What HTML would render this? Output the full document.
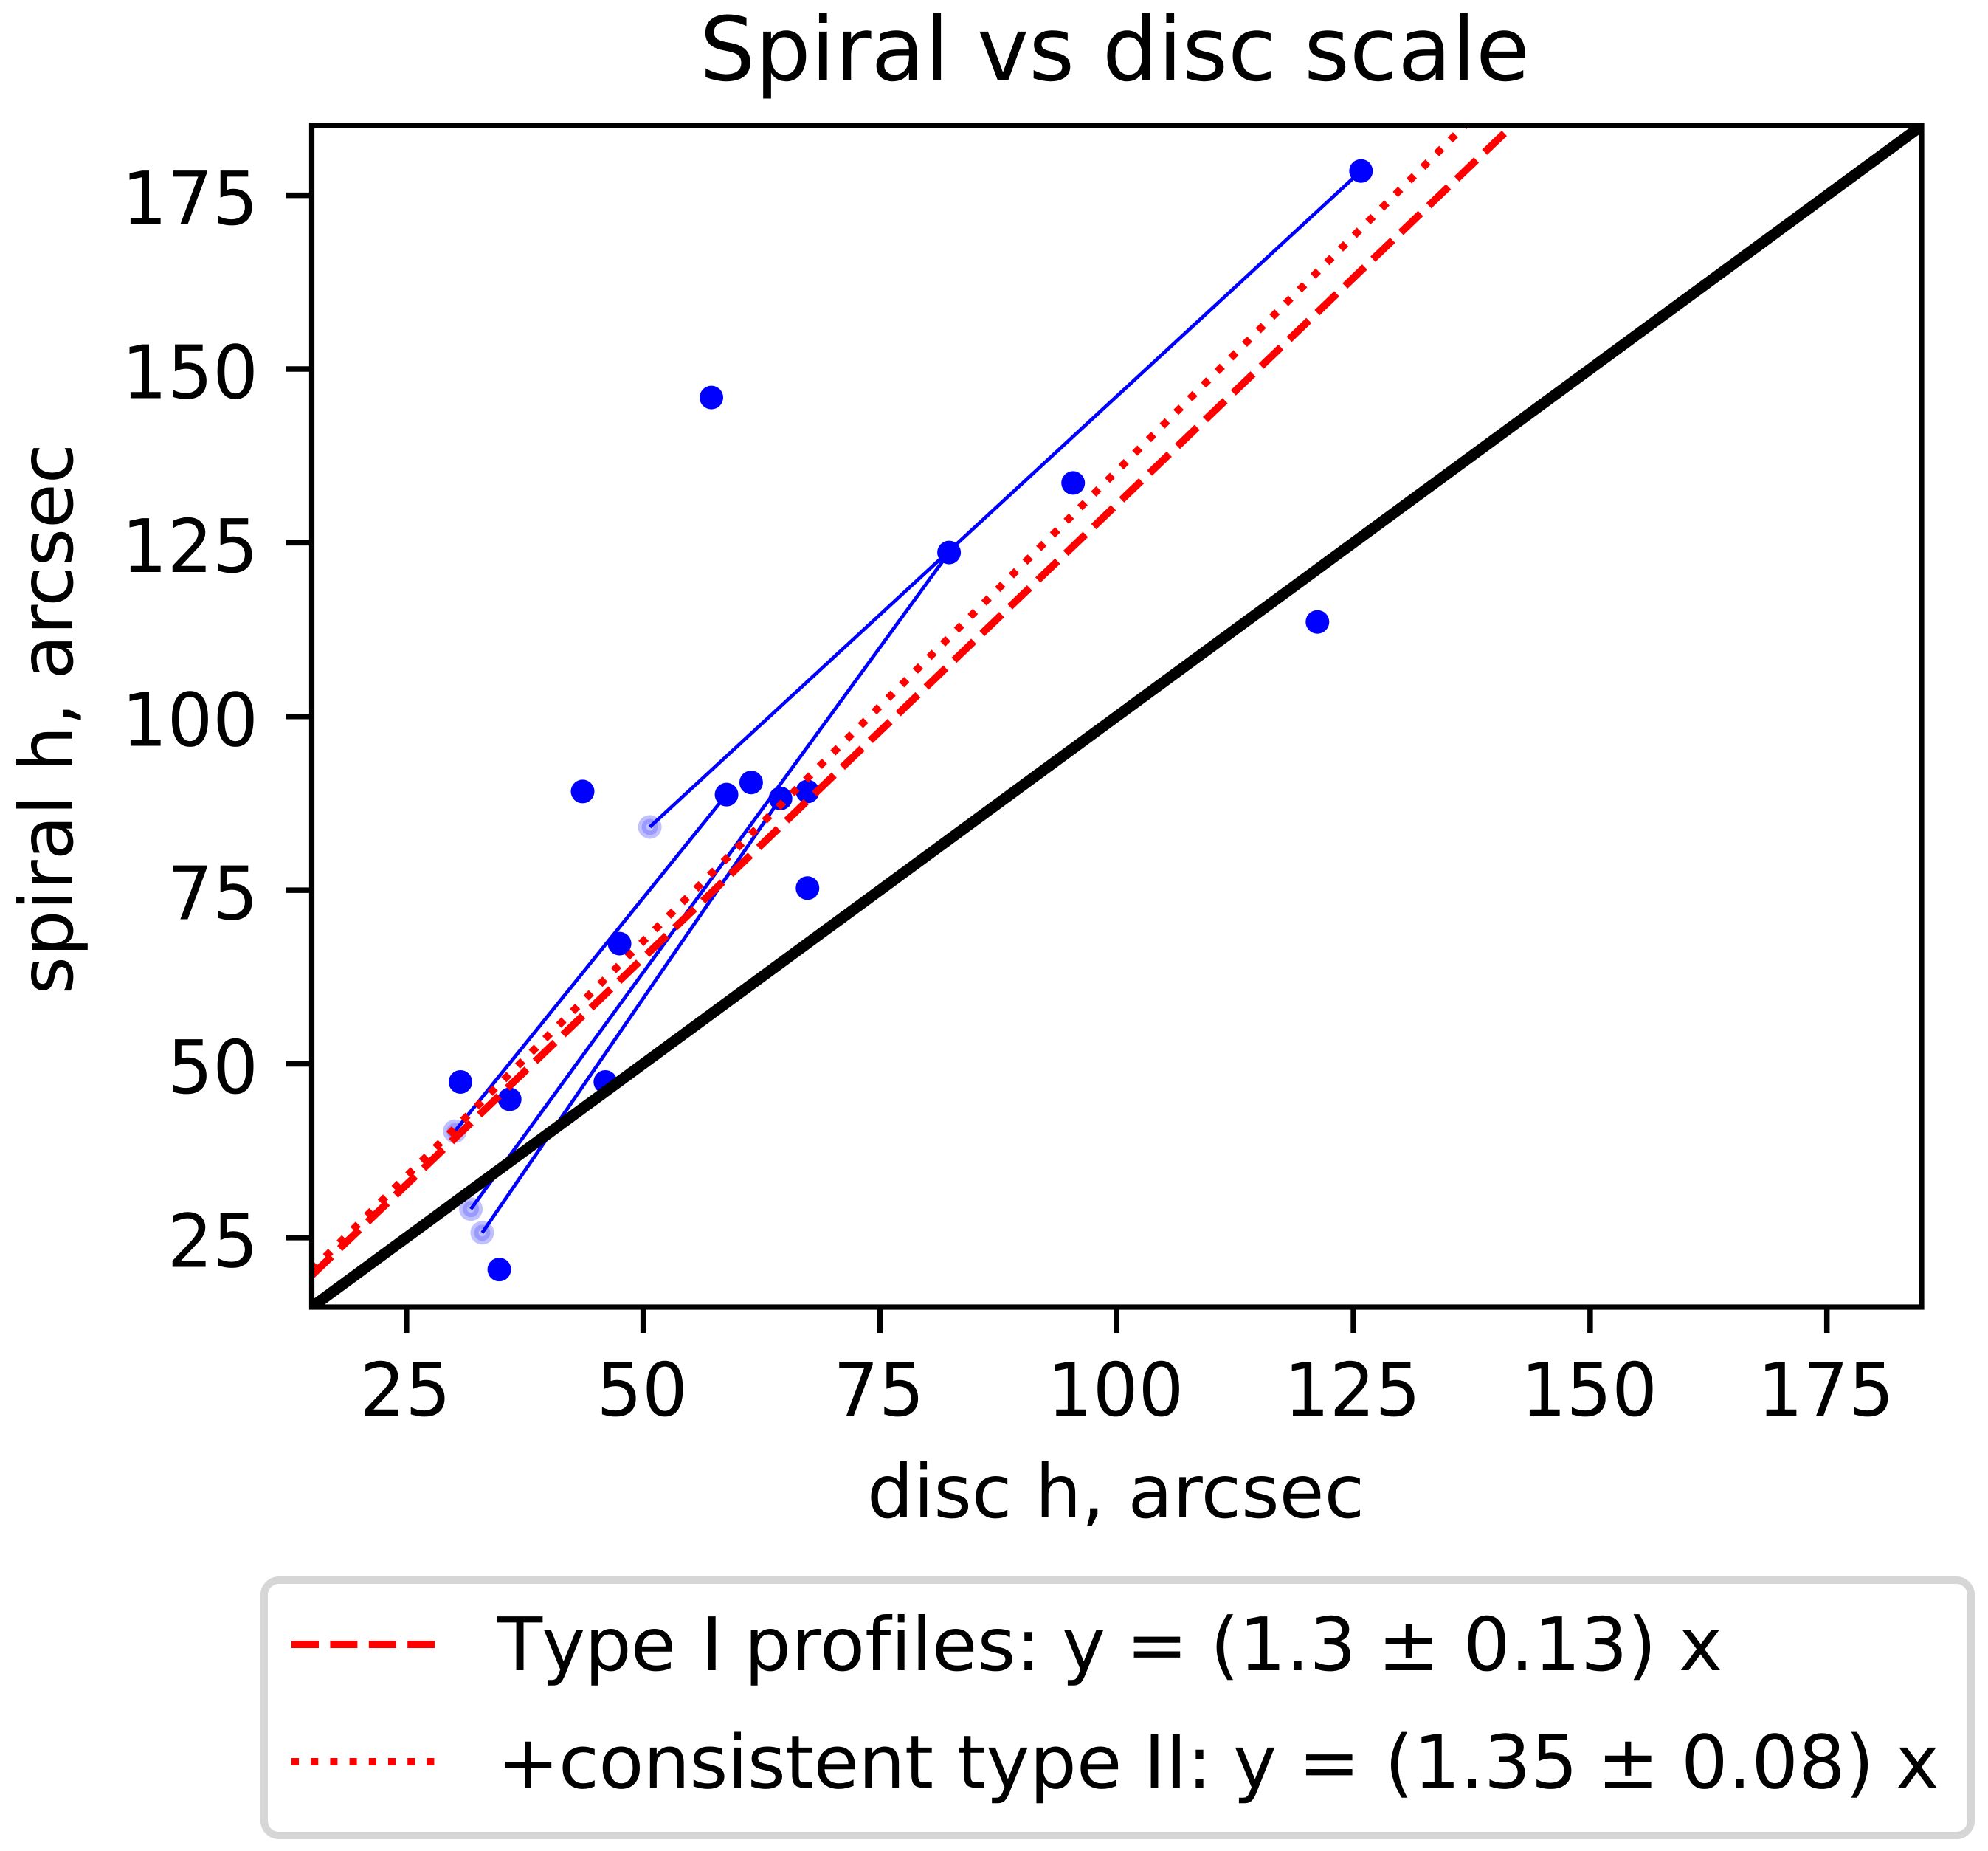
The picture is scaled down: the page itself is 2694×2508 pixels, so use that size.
<!DOCTYPE html>
<html lang="en">
<head>
<meta charset="utf-8">
<title>Spiral vs disc scale</title>
<style>
  html, body { margin: 0; padding: 0; background: #fff; }
  svg { display: block; }
  text { font-family: "DejaVu Sans", "Liberation Sans", sans-serif; fill: #000; text-rendering: geometricPrecision; font-variant-ligatures: none; }
</style>
</head>
<body>
<svg id="chart" xmlns="http://www.w3.org/2000/svg" width="2694" height="2508" viewBox="0 0 2694 2508">
  <defs>
    <clipPath id="plot-clip"><rect x="422.5" y="170" width="2181.5" height="1601"></rect></clipPath>
  </defs>
  <rect x="0" y="0" width="2694" height="2508" fill="#fff"></rect>
  <text x="1510.5" y="108.5" font-size="120" text-anchor="middle" textLength="1125" lengthAdjust="spacingAndGlyphs">Spiral vs disc scale</text>
  <g id="plot-marks" clip-path="url(#plot-clip)"></g>
  <g id="axis-ticks"></g>
  <rect x="422.5" y="170" width="2181.5" height="1601" fill="none" stroke="#000" stroke-width="7.2"></rect>
  <text x="1512" y="2056" font-size="100" text-anchor="middle" textLength="674" lengthAdjust="spacingAndGlyphs">disc h, arcsec</text>
  <text transform="translate(98 974.2) rotate(-90)" font-size="100" text-anchor="middle" textLength="746.5" lengthAdjust="spacingAndGlyphs">spiral h, arcsec</text>
  <g>
    <rect x="358" y="2141" width="2313" height="346" rx="20" ry="20" fill="#fff" stroke="#d6d6d6" stroke-width="10"></rect>
    <line x1="395" y1="2228" x2="590" y2="2228" stroke="#f00" stroke-width="10" stroke-dasharray="37 15.4"></line>
    <text y="2263" font-size="100"><tspan x="674" style="font-kerning:none" letter-spacing="-1">Type </tspan><tspan x="950">I </tspan><tspan x="1008.5">profiles: </tspan><tspan x="1439">y </tspan><tspan x="1526">= </tspan><tspan x="1640">(1.3 </tspan><tspan x="1867">± </tspan><tspan x="1983">0.13) </tspan><tspan x="2275">x</tspan></text>
    <line x1="395" y1="2387" x2="590" y2="2387" stroke="#f00" stroke-width="10" stroke-dasharray="10 16.2"></line>
    <text y="2422.5" font-size="100"><tspan x="674" letter-spacing="-0.75">+consistent </tspan><tspan x="1297">type </tspan><tspan x="1549.7">II: </tspan><tspan x="1671">y </tspan><tspan x="1759.4">= </tspan><tspan x="1876.4">(1.35 </tspan><tspan x="2164.4">± </tspan><tspan x="2278">0.08) </tspan><tspan x="2568.8">x</tspan></text>
  </g>
</svg>
<script>
// Chart data
const xTickValues = [25, 50, 75, 100, 125, 150, 175];
const yTickValues = [25, 50, 75, 100, 125, 150, 175];
const discValues = [43.6, 58.8, 61.4, 64.5, 67.35, 67.35, 47.5, 30.7, 35.9, 46.0, 34.8, 57.2, 82.3, 125.8, 95.4, 121.2];
const spiralValues = [89.2, 88.75, 90.5, 88.2, 89.2, 75.3, 67.3, 47.4, 44.9, 47.4, 20.4, 145.9, 123.6, 178.5, 133.6, 113.6];
const paleDisc = [50.7, 30.1, 31.8, 33.0];
const paleSpiral = [84.1, 40.3, 29.1, 25.7];
const linkTargetDisc = [125.8, 58.8, 82.3, 64.5];
const linkTargetSpiral = [178.5, 88.75, 123.6, 88.2];
const typeISlope = 1.305;
const consistentSlope = 1.353;
const axisRange = [15, 185];

const NS = 'http://www.w3.org/2000/svg';
const AX = { left: 422.5, right: 2604, top: 170.5, bottom: 1771 };
function xScale(v) { return AX.left + (v - axisRange[0]) / (axisRange[1] - axisRange[0]) * (AX.right - AX.left); }
function yScale(v) { return AX.bottom - (v - axisRange[0]) / (axisRange[1] - axisRange[0]) * (AX.bottom - AX.top); }
function make(tag, attrs, parent) {
  const el = document.createElementNS(NS, tag);
  for (const k in attrs) el.setAttribute(k, attrs[k]);
  parent.appendChild(el);
  return el;
}
const marks = document.getElementById('plot-marks');
const ticks = document.getElementById('axis-ticks');

// pale points
paleDisc.forEach(function (d, i) {
  const cx = xScale(d), cy = yScale(paleSpiral[i]);
  const g = make('g', {}, marks);
  
  
  make('circle', { cx: cx, cy: cy, r: 16, fill: '#c0c0ff' }, g);
  make('circle', { cx: cx, cy: cy, r: 8, fill: 'none', stroke: '#9a9aff', 'stroke-width': 6 }, g);
});

// connecting lines
linkTargetDisc.forEach(function (d, i) {
  const el = make('line', { x1: xScale(paleDisc[i]), y1: yScale(paleSpiral[i]), x2: xScale(d), y2: yScale(linkTargetSpiral[i]), stroke: '#00f', 'stroke-width': 4.8 }, marks);
  
  
});

// full-opacity points
discValues.forEach(function (d, i) {
  const el = make('circle', { cx: xScale(d), cy: yScale(spiralValues[i]), r: 16, fill: '#00f' }, marks);
  
  
});

// fit lines
const dashedLine = make('line', { x1: xScale(axisRange[0]), y1: yScale(typeISlope * axisRange[0]), x2: xScale(axisRange[1]), y2: yScale(typeISlope * axisRange[1]), stroke: '#f00', 'stroke-width': 10, 'stroke-dasharray': '37 15.39' }, marks);


const dottedLine = make('line', { x1: xScale(axisRange[0]), y1: yScale(consistentSlope * axisRange[0]), x2: xScale(axisRange[1]), y2: yScale(consistentSlope * axisRange[1]), stroke: '#f00', 'stroke-width': 10, 'stroke-dasharray': '10 16.19' }, marks);


const identityLine = make('line', { x1: xScale(axisRange[0]), y1: yScale(axisRange[0]), x2: xScale(axisRange[1]), y2: yScale(axisRange[1]), stroke: '#000', 'stroke-width': 15 }, marks);



// ticks and labels
xTickValues.forEach(function (v) {
  const x = xScale(v);
  const tick = make('line', { x1: x, y1: AX.bottom, x2: x, y2: AX.bottom + 35, stroke: '#000', 'stroke-width': 7.5 }, ticks);
  
  
  const text = String(v);
  const label = make('text', { x: x - 1.5, y: 1918, 'font-size': 100, 'text-anchor': 'middle', textLength: text.length * 61.7, lengthAdjust: 'spacingAndGlyphs' }, ticks);
  label.textContent = text;
  
  
});
yTickValues.forEach(function (v) {
  const y = yScale(v);
  const tick = make('line', { x1: AX.left - 35, y1: y, x2: AX.left, y2: y, stroke: '#000', 'stroke-width': 7.5 }, ticks);
  
  
  const text = String(v);
  const label = make('text', { x: 350, y: y + 39.5, 'font-size': 100, 'text-anchor': 'end', textLength: text.length * 61.7, lengthAdjust: 'spacingAndGlyphs' }, ticks);
  label.textContent = text;
  
  
});
</script>
</body>
</html>
